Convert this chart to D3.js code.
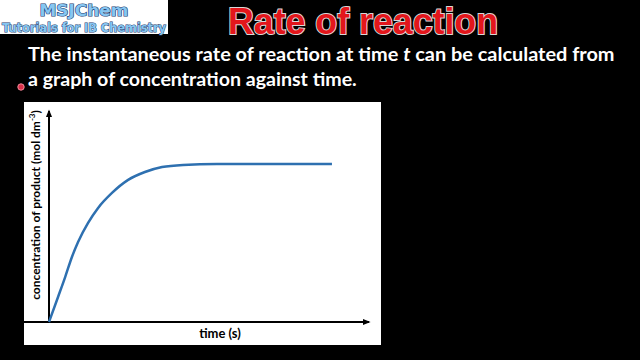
<!DOCTYPE html>
<html><head><meta charset="utf-8">
<script src="https://cdn.jsdelivr.net/npm/d3@7"></script>
<style>html,body{margin:0;padding:0;background:#000;}svg{display:block;}</style>
</head><body>
<script>
// Data (arbitrary units: time 0-100, concentration 0-100)
const time = [0, 2.8, 5.0, 7.1, 9.0, 12.1, 15.2, 19.5, 24.5, 29.7, 35.0, 41.5, 52.0, 65.3, 77.7, 87.6];
const concentration = [0, 11.7, 21.0, 30.4, 37.4, 46.3, 53.3, 60.3, 66.4, 70.1, 72.4, 73.4, 73.8, 73.8, 73.8, 73.8];
const xLabel = "time (s)";
const yLabel = "concentration of product (mol dm";
const titleText = "Rate of reaction";
const line1 = "The instantaneous rate of reaction at time ";
const line1b = " can be calculated from";
const line2 = "a graph of concentration against time.";

const W = 640, H = 360;
const svg = d3.select("body").append("svg").attr("width", W).attr("height", H);
svg.append("rect").attr("width", W).attr("height", H).attr("fill", "#000");

const defs = svg.append("defs");
defs.append("marker").attr("id", "arrow").attr("viewBox", "0 0 10 10")
  .attr("refX", 8).attr("refY", 5).attr("markerWidth", 4).attr("markerHeight", 4)
  .attr("orient", "auto").attr("markerUnits", "strokeWidth")
  .append("path").attr("d", "M0,1 L10,5 L0,9 Z").attr("fill", "#000");

// Logo
svg.append("rect").attr("x", 0).attr("y", 0).attr("width", 168).attr("height", 34).attr("fill", "#fff");
svg.append("text").attr("x", 84).attr("y", 16).attr("text-anchor", "middle")
  .attr("font-family", "DejaVu Sans").attr("font-weight", "bold").attr("font-size", 16)
  .attr("textLength", 89).attr("lengthAdjust", "spacingAndGlyphs")
  .attr("fill", "#86c6f2").attr("stroke", "#1c3d6e").attr("stroke-width", 1.2).attr("paint-order", "stroke")
  .text("MSJChem");
svg.append("text").attr("x", 84).attr("y", 31.5).attr("text-anchor", "middle")
  .attr("font-family", "DejaVu Sans").attr("font-weight", "bold").attr("font-size", 11.5)
  .attr("textLength", 164).attr("lengthAdjust", "spacingAndGlyphs")
  .attr("fill", "#86c6f2").attr("stroke", "#1c3d6e").attr("stroke-width", 1).attr("paint-order", "stroke")
  .text("Tutorials for IB Chemistry");

// Title
svg.append("text").attr("x", 363).attr("y", 34).attr("text-anchor", "middle")
  .attr("font-family", "Liberation Sans, Arial").attr("font-weight", "bold").attr("font-size", 36)
  .attr("textLength", 270).attr("lengthAdjust", "spacingAndGlyphs")
  .attr("fill", "#e3161b").attr("stroke", "#d8d8d8").attr("stroke-width", 2).attr("paint-order", "stroke")
  .text(titleText);

// Body text
const t1 = svg.append("text").attr("x", 28).attr("y", 61)
  .attr("font-family", "Lato").attr("font-weight", "bold").attr("font-size", 20)
  .attr("fill", "#fff");
t1.append("tspan").text(line1);
t1.append("tspan").attr("font-style", "italic").text("t");
t1.append("tspan").text(line1b);
const w1 = t1.node().getComputedTextLength();
if (w1 > 0) t1.attr("font-size", 20 * 587 / w1);
const t2 = svg.append("text").attr("x", 28).attr("y", 86)
  .attr("font-family", "Lato").attr("font-weight", "bold").attr("font-size", 20)
  .attr("fill", "#fff").text(line2);
const w2 = t2.node().getComputedTextLength();
if (w2 > 0) t2.attr("font-size", 20 * 329 / w2);
svg.append("circle").attr("cx", 21).attr("cy", 87).attr("r", 3.2).attr("fill", "#d9304a")
  .attr("stroke", "#f08a9a").attr("stroke-width", 1);

// Chart panel
svg.append("rect").attr("x", 24).attr("y", 102).attr("width", 357).attr("height", 243).attr("fill", "#fff");

const x = d3.scaleLinear().domain([0, 100]).range([49, 372]);
const y = d3.scaleLinear().domain([0, 100]).range([322, 108]);

const gx = svg.append("g").attr("transform", `translate(0,${y(0)})`)
  .call(d3.axisBottom(x).ticks(0).tickSizeOuter(0));
const gy = svg.append("g").attr("transform", `translate(${x(0)},0)`)
  .call(d3.axisLeft(y).ticks(0).tickSizeOuter(0));
[gx, gy].forEach(g => {
  g.select(".domain").attr("stroke", "#000").attr("stroke-width", 2)
    .attr("marker-end", "url(#arrow)");
});
gy.select(".domain").attr("d", `M0,${y(0)+1}V${y(100)+3}`);
gx.select(".domain").attr("d", `M-1,0H${x(100)-3}`);

const pts = time.map((t, i) => [t, concentration[i]]);
svg.append("path").datum(pts)
  .attr("d", d3.line().x(d => x(d[0])).y(d => y(d[1])).curve(d3.curveMonotoneX))
  .attr("fill", "none").attr("stroke", "#2e70b0").attr("stroke-width", 2.5);

// Labels
svg.append("text").attr("x", 220).attr("y", 338).attr("text-anchor", "middle")
  .attr("font-family", "Lato").attr("font-weight", "bold").attr("font-size", 13)
  .attr("fill", "#000").text(xLabel);
const yl = svg.append("text").attr("transform", "translate(40,205) rotate(-90)")
  .attr("text-anchor", "middle")
  .attr("font-family", "Lato").attr("font-weight", "bold").attr("font-size", 12)
  .attr("fill", "#000");
yl.append("tspan").text(yLabel);
yl.append("tspan").attr("font-size", 8).attr("dy", -5).text("-3");
yl.append("tspan").attr("dy", 5).text(")");
</script>
</body></html>
